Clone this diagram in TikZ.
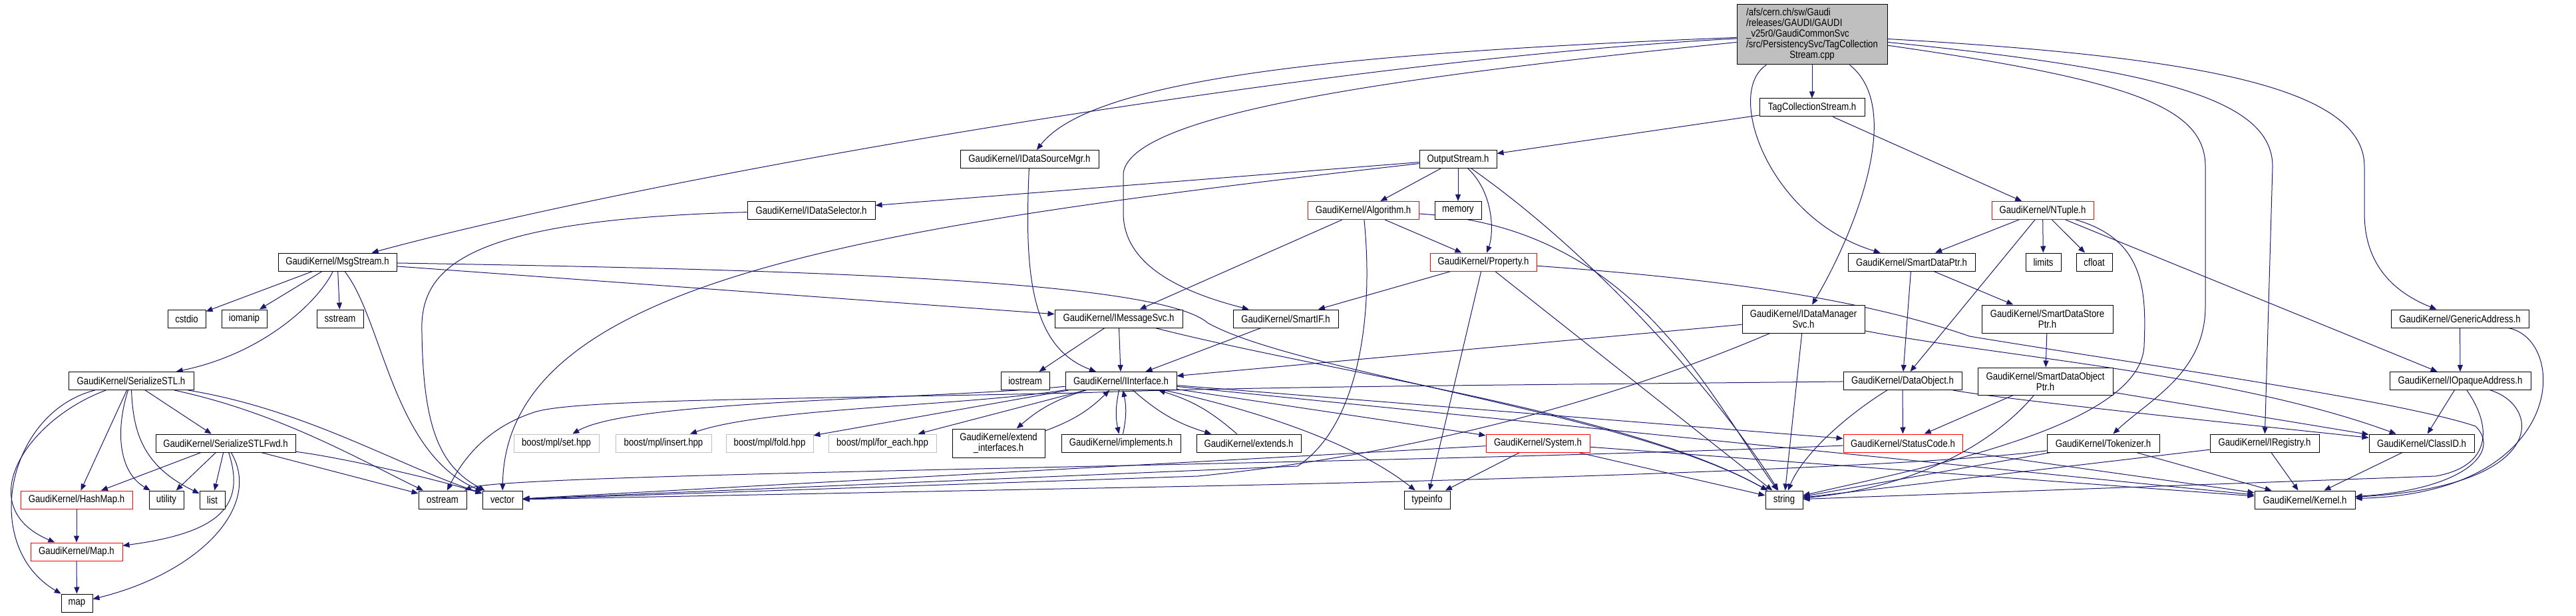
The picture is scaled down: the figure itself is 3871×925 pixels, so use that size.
\documentclass[tikz,border=0pt]{standalone}
\usepackage{fontspec}
\newfontfamily\graphfont{Liberation Sans}[FakeStretch=0.85]
\usetikzlibrary{arrows.meta}
\pgfdeclarelayer{bg}
\pgfdeclarelayer{edges}
\pgfsetlayers{bg,edges,main}
\definecolor{edgeblue}{HTML}{191970}
\definecolor{boxgray}{HTML}{BFBFBF}
\definecolor{boxred}{HTML}{FF0000}

\begin{document}
\begin{tikzpicture}[
	x = 1pt, y = 1pt, % one unit is one pixel of the graph
	> = {Triangle[length=10pt,width=8pt]}, % arrow head style
	dep/.style = {->, draw=edgeblue, line width=1pt}, % include edge
	hdr/.style = {draw=black, fill=white, line width=1pt, inner sep=0pt,
		minimum height=27pt, align=center,
		font={\graphfont\fontsize{15.5pt}{16pt}\selectfont}},
	hdrtrunc/.style = {hdr, draw=boxred}, % graph cut below this file
	hdrsys/.style = {hdr, draw=boxgray}, % not documented
	hdrroot/.style = {hdr, fill=boxgray}
	]

	\useasboundingbox (0,0) rectangle (3871,-925);
	\begin{pgfonlayer}{bg}
	\fill[white] (0,0) rectangle (3871,-925);
	\end{pgfonlayer}

	% source file and first levels
	\node[hdrroot, minimum width=226pt, minimum height=90pt] (root) at (2723,-52) {\begin{tabular}{@{}l@{}}/afs/cern.ch/sw/Gaudi\\/releases/GAUDI/GAUDI\\\_v25r0/GaudiCommonSvc\\/src/PersistencySvc/TagCollection\\\multicolumn{1}{@{}c@{}}{Stream.cpp}\end{tabular}};
	\node[hdr, minimum width=158pt] (tcs) at (2723,-161.5) {TagCollectionStream.h};
	\node[hdr, minimum width=208pt] (dsm) at (1547,-239) {GaudiKernel/IDataSourceMgr.h};
	\node[hdr, minimum width=116pt] (outs) at (2191,-239) {OutputStream.h};
	\node[hdr, minimum width=192pt] (dsel) at (1219,-316) {GaudiKernel/IDataSelector.h};
	\node[hdrtrunc, minimum width=167pt] (algo) at (2048.5,-316) {GaudiKernel/Algorithm.h};
	\node[hdr, minimum width=70pt] (memory) at (2191,-316) {memory};
	\node[hdrtrunc, minimum width=153pt] (ntuple) at (3069.5,-316) {GaudiKernel/NTuple.h};
	\node[hdr, minimum width=178pt] (msg) at (507,-393.5) {GaudiKernel/MsgStream.h};
	\node[hdrtrunc, minimum width=160pt] (prop) at (2229,-393.5) {GaudiKernel/Property.h};
	\node[hdr, minimum width=191pt] (sdp) at (2872.5,-393.5) {GaudiKernel/SmartDataPtr.h};
	\node[hdr, minimum width=53pt] (limits) at (3070.5,-393.5) {limits};
	\node[hdr, minimum width=54pt] (cfloat) at (3147,-393.5) {cfloat};

	% middle rows
	\node[hdr, minimum width=57pt] (cstdio) at (280.5,-478.5) {cstdio};
	\node[hdr, minimum width=68pt] (iomanip) at (367,-478.5) {iomanip};
	\node[hdr, minimum width=70pt] (sstream) at (511,-478.5) {sstream};
	\node[hdr, minimum width=192pt] (imsg) at (1681,-478.5) {GaudiKernel/IMessageSvc.h};
	\node[hdr, minimum width=158pt] (smartif) at (1932,-478.5) {GaudiKernel/SmartIF.h};
	\node[hdr, minimum width=184pt, minimum height=42pt] (idms) at (2710,-479) {GaudiKernel/IDataManager\\Svc.h};
	\node[hdr, minimum width=197pt, minimum height=42pt] (sdsp) at (3076.5,-479) {GaudiKernel/SmartDataStore\\Ptr.h};
	\node[hdr, minimum width=207pt] (gen) at (3696.5,-478.5) {GaudiKernel/GenericAddress.h};
	\node[hdr, minimum width=188pt] (sstl) at (197,-572) {GaudiKernel/SerializeSTL.h};
	\node[hdr, minimum width=73pt] (iostream) at (1540.5,-572) {iostream};
	\node[hdr, minimum width=167pt] (iif) at (1684.5,-572) {GaudiKernel/IInterface.h};
	\node[hdr, minimum width=178pt] (dobj) at (2859,-572) {GaudiKernel/DataObject.h};
	\node[hdr, minimum width=203pt, minimum height=41pt] (sdop) at (3073.5,-572.5) {GaudiKernel/SmartDataObject\\Ptr.h};
	\node[hdr, minimum width=212pt] (ioa) at (3697,-572) {GaudiKernel/IOpaqueAddress.h};
	\node[hdr, minimum width=210pt] (sfwd) at (339,-665.5) {GaudiKernel/SerializeSTLFwd.h};
	\node[hdrsys, minimum width=128pt] (set) at (836,-665.5) {boost/mpl/set.hpp};
	\node[hdrsys, minimum width=144pt] (insert) at (997,-665.5) {boost/mpl/insert.hpp};
	\node[hdrsys, minimum width=131pt] (fold) at (1156.5,-665.5) {boost/mpl/fold.hpp};
	\node[hdrsys, minimum width=162pt] (foreach) at (1326,-665.5) {boost/mpl/for\_each.hpp};
	\node[hdr, minimum width=139pt, minimum height=43pt] (extif) at (1500.5,-665.5) {GaudiKernel/extend\\\_interfaces.h};
	\node[hdr, minimum width=179pt] (impl) at (1684.5,-665.5) {GaudiKernel/implements.h};
	\node[hdr, minimum width=157pt] (extd) at (1876.5,-665.5) {GaudiKernel/extends.h};
	\node[hdrtrunc, minimum width=156pt] (sys) at (2311,-665.5) {GaudiKernel/System.h};
	\node[hdrtrunc, minimum width=179pt] (sc) at (2859.5,-665.5) {GaudiKernel/StatusCode.h};
	\node[hdr, minimum width=169pt] (tok) at (3160.5,-665.5) {GaudiKernel/Tokenizer.h};
	\node[hdr, minimum width=164pt] (ireg) at (3403,-665.5) {GaudiKernel/IRegistry.h};
	\node[hdr, minimum width=158pt] (clid) at (3639,-665.5) {GaudiKernel/ClassID.h};

	% bottom rows
	\node[hdrtrunc, minimum width=168pt] (hmap) at (115,-750.5) {GaudiKernel/HashMap.h};
	\node[hdr, minimum width=52pt] (utility) at (250,-750.5) {utility};
	\node[hdr, minimum width=38pt] (list) at (319,-750.5) {list};
	\node[hdr, minimum width=72pt] (ostream) at (665,-750.5) {ostream};
	\node[hdr, minimum width=60pt] (vector) at (755,-750.5) {vector};
	\node[hdr, minimum width=69pt] (typeinfo) at (2144.5,-750.5) {typeinfo};
	\node[hdr, minimum width=56pt] (string) at (2681,-750.5) {string};
	\node[hdr, minimum width=151pt] (kernel) at (3463.5,-750.5) {GaudiKernel/Kernel.h};
	\node[hdrtrunc, minimum width=138pt] (maph) at (115,-828.5) {GaudiKernel/Map.h};
	\node[hdr, minimum width=47pt] (map) at (115.5,-905.5) {map};

	\begin{pgfonlayer}{edges}
	% straight includes
	\foreach \a/\b in {root/tcs, tcs/outs, tcs/ntuple, outs/dsel, outs/algo, outs/memory,
		algo/imsg, algo/prop, ntuple/sdp, ntuple/dobj, ntuple/limits, ntuple/cfloat, ntuple/ioa,
		prop/smartif, prop/typeinfo, prop/string, msg/cstdio, msg/iomanip, msg/sstream, msg/imsg,
		sdp/dobj, sdp/sdsp, imsg/iostream, imsg/iif, smartif/iif, idms/iif, idms/string,
		sdsp/sdop, gen/ioa, sstl/hmap, sstl/sfwd, sfwd/hmap, sfwd/utility, sfwd/list, sfwd/ostream,
		hmap/maph, maph/map, iif/foreach, iif/fold, iif/sys, iif/sc, iif/kernel, dobj/sc,
		sc/kernel, sys/typeinfo, sys/string, sys/kernel, sys/vector, tok/string, tok/kernel,
		ireg/string, ireg/kernel, clid/kernel, sdop/sc, sdop/clid, ioa/clid}
		\draw[dep] (\a) -- (\b);

	% from the source file
	\draw[dep] (root) .. controls (2000,-80) and (1640,-120) .. (dsm);
	\draw[dep] (root) .. controls (2000,-90) and (1000,-260) .. (msg);
	\draw[dep] (root) .. controls (2100,-115) and (1700,-170) .. (1688,-260) -- (1688,-320) .. controls (1688,-400) and (1780,-440) .. (smartif);
	\draw[dep] (root) .. controls (2590,-140) and (2660,-330) .. (sdp);
	\draw[dep] (root) .. controls (2870,-170) and (2770,-380) .. (idms);
	\draw[dep] (root) .. controls (3200,-120) and (3314,-160) .. (3314,-250) -- (3314,-460) .. controls (3314,-560) and (3230,-600) .. (tok);
	\draw[dep] (root) .. controls (3250,-105) and (3415,-150) .. (3415,-250) -- (ireg);
	\draw[dep] (root) .. controls (3300,-85) and (3553,-130) .. (3553,-250) -- (3553,-320) .. controls (3553,-400) and (3600,-440) .. (gen);

	% long bent includes
	\draw[dep] (outs) .. controls (1300,-340) and (760,-420) .. (vector);
	\draw[dep] (outs) .. controls (2245,-290) and (2245,-350) .. (prop);
	\draw[dep] (outs) .. controls (2420,-400) and (2600,-620) .. (string);
	\draw[dep] (algo) .. controls (2065,-480) and (2040,-640) .. (1950,-700) -- (vector);
	\draw[dep] (algo) .. controls (2450,-340) and (2560,-580) .. (string);
	\draw[dep] (ntuple) .. controls (3225,-360) and (3225,-440) .. (3222,-520) .. controls (3215,-640) and (2900,-700) .. (string);
	\draw[dep] (prop) .. controls (2600,-420) and (2800,-450) .. (2960,-505) .. controls (3200,-545) and (3600,-600) .. (3720,-640) .. controls (3760,-680) and (3700,-735) .. (kernel);
	\draw[dep] (msg) .. controls (480,-450) and (400,-530) .. (sstl);
	\draw[dep] (msg) .. controls (1200,-405) and (1740,-420) .. (1815,-485) .. controls (1950,-560) and (2450,-620) .. (string);
	\draw[dep] (msg) .. controls (575,-480) and (590,-680) .. (vector);
	\draw[dep] (imsg) .. controls (2000,-560) and (2450,-620) .. (string);
	\draw[dep] (idms) .. controls (2450,-590) and (2150,-680) .. (1800,-715) -- (vector);
	\draw[dep] (idms) .. controls (3000,-535) and (3350,-560) .. (clid);
	\draw[dep] (gen) .. controls (3860,-510) and (3860,-740) .. (kernel);
	\draw[dep] (ioa) .. controls (3820,-610) and (3830,-730) .. (kernel);
	\draw[dep] (ioa) .. controls (3745,-640) and (3745,-700) .. (3660,-715) -- (string);
	\draw[dep] (dsm) .. controls (1540,-400) and (1545,-520) .. (iif);
	\draw[dep] (dsel) .. controls (700,-330) and (630,-400) .. (634,-500) .. controls (636,-640) and (660,-700) .. (vector);

	% serialisation headers
	\draw[dep] (sstl) .. controls (420,-620) and (540,-690) .. (ostream);
	\draw[dep] (sstl) .. controls (460,-615) and (600,-700) .. (vector);
	\draw[dep] (sstl) .. controls (200,-650) and (215,-700) .. (list);
	\draw[dep] (sstl) .. controls (172,-650) and (180,-710) .. (utility);
	\draw[dep] (sstl) .. controls (40,-630) and (-45,-760) .. (maph);
	\draw[dep] (sstl) .. controls (10,-620) and (-30,-820) .. (map);
	\draw[dep] (sfwd) .. controls (370,-760) and (330,-800) .. (maph);
	\draw[dep] (sfwd) .. controls (395,-760) and (300,-860) .. (map);
	\draw[dep] (sfwd) .. controls (500,-685) and (640,-715) .. (vector);

	% interface headers
	\draw[dep] (iif) .. controls (1450,-610) and (1150,-612) .. (insert);
	\draw[dep] (iif) .. controls (1400,-600) and (950,-600) .. (set);
	\draw[dep] (iif) to[bend right=12] (extif);
	\draw[dep] (extif) to[bend right=12] (iif);
	\draw[dep] (iif) to[bend right=12] (impl);
	\draw[dep] (impl) to[bend right=12] (iif);
	\draw[dep] (iif) to[bend right=12] (extd);
	\draw[dep] (extd) to[bend right=12] (iif);
	\draw[dep] (iif) .. controls (1870,-612) and (2030,-660) .. (typeinfo);

	% data headers
	\draw[dep] (dobj) .. controls (2780,-620) and (2710,-680) .. (string);
	\draw[dep] (dobj) .. controls (3000,-598) and (3300,-630) .. (clid);
	\draw[dep] (dobj) .. controls (2300,-578) and (1900,-580) .. (1620,-590) .. controls (1150,-600) and (850,-600) .. (800,-620) .. controls (740,-640) and (700,-680) .. (ostream);
	\draw[dep] (sc) .. controls (2000,-700) and (760,-710) .. (ostream);
	\draw[dep] (tok) .. controls (2900,-700) and (2300,-720) .. (1800,-730) -- (vector);
	\draw[dep] (sdop) .. controls (3010,-650) and (2900,-730) .. (string);
	\end{pgfonlayer}

\end{tikzpicture}
\end{document}
